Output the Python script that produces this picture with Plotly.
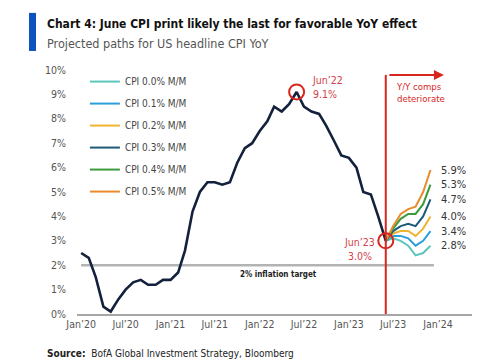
import plotly.graph_objects as go

FONT = "Liberation Sans Narrow, DejaVu Sans Condensed, Arial Narrow, sans-serif"

# Actual CPI YoY (%), Jan 2020 .. Jun 2023
actual_months = [f"{y}-{m:02d}-01" for y in range(2020, 2024) for m in range(1, 13)][:42]
actual_cpi = [2.5, 2.3, 1.5, 0.3, 0.1, 0.6, 1.0, 1.3, 1.4, 1.2, 1.2, 1.4,
              1.4, 1.7, 2.6, 4.2, 5.0, 5.4, 5.4, 5.3, 5.4, 6.2, 6.8, 7.0,
              7.5, 7.9, 8.5, 8.3, 8.6, 9.1, 8.5, 8.3, 8.2, 7.7, 7.1, 6.5,
              6.4, 6.0, 5.0, 4.9, 4.0, 3.0]

# Projections, Jun 2023 .. Dec 2023
proj_months = ["2023-06-01", "2023-07-01", "2023-08-01", "2023-09-01",
               "2023-10-01", "2023-11-01", "2023-12-01"]
proj_names = ["CPI 0.0% M/M", "CPI 0.1% M/M", "CPI 0.2% M/M",
              "CPI 0.3% M/M", "CPI 0.4% M/M", "CPI 0.5% M/M"]
proj_values = [
    [3.0, 3.1, 3.0, 2.8, 2.4, 2.5, 2.8],
    [3.0, 3.2, 3.2, 3.1, 2.8, 3.0, 3.4],
    [3.0, 3.3, 3.4, 3.4, 3.2, 3.5, 4.0],
    [3.0, 3.4, 3.6, 3.7, 3.6, 4.0, 4.7],
    [3.0, 3.5, 3.9, 4.1, 4.1, 4.5, 5.3],
    [3.0, 3.6, 4.1, 4.3, 4.4, 5.0, 5.9],
]
proj_colors = ["#5cc6bd", "#2b9fd9", "#f0b430", "#1d5a78", "#3c9a3c", "#e98b2c"]
end_labels = ["2.8%", "3.4%", "4.0%", "4.7%", "5.3%", "5.9%"]

# Axis ticks
y_ticks = list(range(0, 11))
y_ticktext = [f"{v}%" for v in y_ticks]
x_tickvals = ["2020-01-01", "2020-07-01", "2021-01-01", "2021-07-01", "2022-01-01",
              "2022-07-01", "2023-01-01", "2023-07-01", "2024-01-01"]
x_ticktext = ["Jan’20", "Jul’20", "Jan’21", "Jul’21", "Jan’22",
              "Jul’22", "Jan’23", "Jul’23", "Jan’24"]

target = 2.0
peak_date, peak_val = "2022-06-01", 9.1
last_date, last_val = "2023-06-01", 3.0

RED = "#d7261e"
fig = go.Figure()

# 2% target line
fig.add_shape(type="line", xref="x", yref="y", x0="2020-01-01", x1="2023-12-15",
              y0=target, y1=target, line=dict(color="#b3b3b3", width=2.5), layer="below")

for name, vals, col in zip(proj_names, proj_values, proj_colors):
    fig.add_trace(go.Scatter(x=proj_months, y=vals, mode="lines", name=name,
                             legendgroup=name,
                             line=dict(color=col, width=2)))

fig.add_trace(go.Scatter(x=actual_months, y=actual_cpi, mode="lines",
                         line=dict(color="#14213d", width=2.6), showlegend=False))

# Circles
fig.add_trace(go.Scatter(x=[peak_date, last_date], y=[peak_val, last_val], mode="markers",
                         marker=dict(symbol="circle-open", size=15,
                                     line=dict(color=RED, width=2), color=RED),
                         showlegend=False))

# Red vertical line + arrow
fig.add_shape(type="line", xref="x", yref="y", x0=last_date, x1=last_date,
              y0=0, y1=9.8, line=dict(color=RED, width=2))
fig.add_annotation(x="2024-01-25", y=9.8, ax=-56, ay=0, axref="pixel", ayref="pixel",
                   xref="x", yref="y", text="", showarrow=True, arrowhead=2,
                   arrowsize=1, arrowwidth=2, arrowcolor=RED)
fig.add_annotation(x=last_date, y=9.08, xref="x", yref="y", xshift=8, xanchor="left",
                   text="Y/Y comps<br>deteriorate", showarrow=False, align="left",
                   font=dict(family=FONT, size=9.5, color=RED))

# Peak / last labels
fig.add_annotation(x=peak_date, y=peak_val, xshift=13, yshift=5, xanchor="left",
                   text="Jun’22<br>9.1%", showarrow=False, align="left",
                   font=dict(family=FONT, size=10.5, color="#d2404a"))
fig.add_annotation(x=last_date, y=last_val, xshift=-9, yshift=-8, xanchor="right",
                   text="Jun’23<br>3.0%", showarrow=False, align="center",
                   font=dict(family=FONT, size=10.5, color="#d2404a"))

# End labels
for vals, lab in zip(proj_values, end_labels):
    fig.add_annotation(x=proj_months[-1], y=vals[-1], xshift=9, xanchor="left",
                       text=lab, showarrow=False,
                       font=dict(family=FONT, size=11, color="#333333"))

fig.add_annotation(x="2022-03-20", y=1.6, text="<b>2% inflation target</b>", showarrow=False,
                   font=dict(family=FONT, size=8, color="#222222"))

# Title, subtitle, source
fig.add_shape(type="rect", xref="paper", yref="paper", x0=-0.1215, x1=-0.1038,
              y0=1.078, y1=1.234, fillcolor="#0d52bf", line=dict(width=0))
fig.add_annotation(xref="paper", yref="paper", x=-0.081, y=1.19, xanchor="left",
                   yanchor="middle", showarrow=False,
                   text="<b>Chart 4: June CPI print likely the last for favorable YoY effect</b>",
                   font=dict(family=FONT, size=12, color="#111111"))
fig.add_annotation(xref="paper", yref="paper", x=-0.081, y=1.107, xanchor="left",
                   yanchor="middle", showarrow=False,
                   text="Projected paths for US headline CPI YoY",
                   font=dict(family=FONT, size=12.5, color="#555555"))
fig.add_annotation(xref="paper", yref="paper", x=-0.081, y=-0.16, xanchor="left",
                   yanchor="middle", showarrow=False,
                   text="<b>Source:</b>  BofA Global Investment Strategy, Bloomberg",
                   font=dict(family=FONT, size=10, color="#222222"))

# page body adds an 8px offset, so margins are reduced by 8px on the top/left
fig.update_layout(
    width=485, height=360,
    margin=dict(l=69, r=21, t=62, b=54),
    paper_bgcolor="white", plot_bgcolor="white",
    font=dict(family=FONT, size=10, color="#555555"),
    showlegend=True,
    legend=dict(x=0.02, y=1.012, xanchor="left", yanchor="top",
                traceorder="grouped", tracegroupgap=3,
                font=dict(family=FONT, size=10, color="#444444"),
                bgcolor="rgba(0,0,0,0)"),
    xaxis=dict(type="date", range=["2019-12-15", "2024-05-19"],
               tickvals=x_tickvals, ticktext=x_ticktext, showgrid=False,
               zeroline=False, showline=True, linecolor="#a6a6a6", linewidth=1.5,
               ticks="", tickfont=dict(family=FONT, size=10.5, color="#555555")),
    yaxis=dict(range=[0, 10], tickvals=y_ticks, ticktext=y_ticktext, showgrid=False,
               zeroline=False, showline=False, ticks="", ticklabelstandoff=10,
               tickfont=dict(family=FONT, size=10.5, color="#555555")),
)

fig.write_html("out.html")
